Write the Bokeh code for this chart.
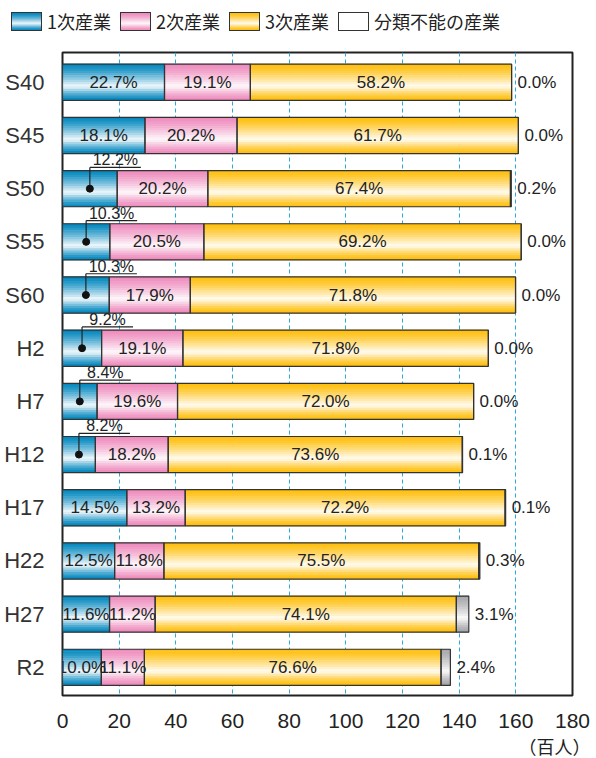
import numpy as np
from bokeh.plotting import figure
from bokeh.models import Range1d, FixedTicker, ColumnDataSource, Div, Title
from bokeh.layouts import column
from bokeh.core.properties import value
from bokeh.embed import file_html
from bokeh.resources import INLINE

# ---------------- data (hundreds of persons) ----------------
categories = ["S40", "S45", "S50", "S55", "S60", "H2", "H7", "H12", "H17", "H22", "H27", "R2"]
primary = [36.0, 29.1, 19.3, 16.7, 16.5, 13.8, 12.2, 11.6, 22.7, 18.4, 16.6, 13.7]
secondary = [30.3, 32.5, 32.0, 33.2, 28.6, 28.7, 28.4, 25.7, 20.6, 17.4, 16.1, 15.2]
tertiary = [92.2, 99.3, 106.8, 112.0, 114.8, 107.8, 104.5, 103.8, 112.9, 111.1, 106.3, 104.7]
unclassified = [0.0, 0.0, 0.3, 0.0, 0.0, 0.0, 0.0, 0.1, 0.2, 0.4, 4.4, 3.3]

pct_primary = [22.7, 18.1, 12.2, 10.3, 10.3, 9.2, 8.4, 8.2, 14.5, 12.5, 11.6, 10.0]
pct_secondary = [19.1, 20.2, 20.2, 20.5, 17.9, 19.1, 19.6, 18.2, 13.2, 11.8, 11.2, 11.1]
pct_tertiary = [58.2, 61.7, 67.4, 69.2, 71.8, 71.8, 72.0, 73.6, 72.2, 75.5, 74.1, 76.6]
pct_unclassified = [0.0, 0.0, 0.2, 0.0, 0.0, 0.0, 0.0, 0.1, 0.1, 0.3, 3.1, 2.4]

# primary-sector label drawn above the bar with a leader line
callout = [False, False, True, True, True, True, True, True, False, False, False, False]

legend_labels = ["1次産業", "2次産業", "3次産業", "分類不能の産業"]
x_ticks = [0, 20, 40, 60, 80, 100, 120, 140, 160, 180]
unit_label = "（百人）"

# ---------------- styling ----------------
BASES = [(0, 134, 190), (238, 138, 188), (255, 190, 10), (165, 165, 170)]
LEGEND_BASES = [(0, 134, 190), (238, 138, 188), (255, 190, 10), None]
N_STRIPS = 16
BAR_H = 0.68
LABEL_FONT = value("Liberation Sans")


def grad_color(base, t):
    if base is None:
        return "#ffffff"
    peak = 0.62
    w = t / peak if t < peak else (1 - t) / (1 - peak)
    m = 0.96 * (w ** 1.3)
    r, g, b = [int(round(c + (255 - c) * m)) for c in base]
    return "#%02x%02x%02x" % (r, g, b)


def css_gradient(base):
    if base is None:
        return "#ffffff"
    stops = []
    for k in range(11):
        t = k / 10
        stops.append(f"{grad_color(base, t)} {int(t * 100)}%")
    return "linear-gradient(to bottom, " + ", ".join(stops) + ")"


# ---------------- legend (HTML row) ----------------
items = []
for i, (lab, base) in enumerate(zip(legend_labels, LEGEND_BASES)):
    ml = 11 if i == 0 else 9
    items.append(
        f'<span style="display:inline-block;box-sizing:border-box;width:31px;height:19px;'
        f'border:1px solid #333;background:{css_gradient(base)};margin-left:{ml}px;"></span>'
        f'<span style="margin-left:5px;line-height:19px;">{lab}</span>'
    )
legend_html = (
    '<div style="display:flex;flex-direction:row;align-items:center;height:19px;'
    'margin-top:12px;font-family:\'Noto Sans CJK JP\';font-size:18px;color:#222;'
    'white-space:nowrap;">' + "".join(items) + "</div>"
)
legend = Div(text=legend_html, width=594, height=42, margin=(0, 0, 0, 0))

# ---------------- main figure ----------------
n = len(categories)
p = figure(width=594, height=716, x_range=Range1d(0, 180),
           y_range=Range1d(n - 0.47, -0.56),
           output_backend="svg", toolbar_location=None,
           min_border_left=62, min_border_right=22, min_border_top=10, min_border_bottom=61)
p.margin = (0, 0, 0, 0)
p.background_fill_color = "white"
p.border_fill_color = "white"
p.outline_line_color = "#222222"
p.outline_line_width = 2

series = [primary, secondary, tertiary, unclassified]
strips = dict(y=[], left=[], right=[], h=[], color=[])
boxes = dict(y=[], left=[], right=[])
for i in range(n):
    cum = 0.0
    for s, vals in enumerate(series):
        v = vals[i]
        if v > 0:
            for k in range(N_STRIPS):
                t = (k + 0.5) / N_STRIPS
                strips["y"].append(i - BAR_H / 2 + (k + 0.5) * BAR_H / N_STRIPS)
                strips["left"].append(cum)
                strips["right"].append(cum + v)
                strips["h"].append(BAR_H / N_STRIPS * 1.3)
                strips["color"].append(grad_color(BASES[s], t))
        boxes["y"].append(i)
        boxes["left"].append(cum)
        boxes["right"].append(cum + v)
        cum += v

p.hbar(y="y", left="left", right="right", height="h", fill_color="color",
       line_color=None, source=ColumnDataSource(strips))
p.hbar(y="y", left="left", right="right", height=BAR_H, fill_color=None,
       line_color="#333333", line_width=1.2, source=ColumnDataSource(boxes))

# labels
inside = dict(x=[], y=[], text=[])
above = dict(x=[], y=[], text=[])
lead_v = dict(x0=[], y0=[], x1=[], y1=[])
lead_h = dict(x0=[], y0=[], x1=[], y1=[])
dots = dict(x=[], y=[])
right_lab = dict(x=[], y=[], text=[])
LEAD_LEN = 18
for i in range(n):
    c1 = primary[i]
    c2 = c1 + secondary[i]
    c3 = c2 + tertiary[i]
    tot = c3 + unclassified[i]
    if callout[i]:
        xd = c1 / 2
        yl = i - BAR_H / 2 - 0.06
        dots["x"].append(xd); dots["y"].append(i)
        lead_v["x0"].append(xd); lead_v["y0"].append(i); lead_v["x1"].append(xd); lead_v["y1"].append(yl)
        lead_h["x0"].append(xd); lead_h["y0"].append(yl); lead_h["x1"].append(xd + LEAD_LEN); lead_h["y1"].append(yl)
        above["x"].append(xd + LEAD_LEN / 2); above["y"].append(yl); above["text"].append(f"{pct_primary[i]:.1f}%")
    else:
        inside["x"].append(c1 / 2); inside["y"].append(i); inside["text"].append(f"{pct_primary[i]:.1f}%")
    inside["x"].append((c1 + c2) / 2); inside["y"].append(i); inside["text"].append(f"{pct_secondary[i]:.1f}%")
    inside["x"].append((c2 + c3) / 2); inside["y"].append(i); inside["text"].append(f"{pct_tertiary[i]:.1f}%")
    right_lab["x"].append(tot); right_lab["y"].append(i); right_lab["text"].append(f"{pct_unclassified[i]:.1f}%")

p.text(x="x", y="y", text="text", source=ColumnDataSource(inside), text_font=LABEL_FONT,
       text_font_size="17px", text_color="#222222", text_align="center", text_baseline="middle")
p.text(x="x", y="y", text="text", source=ColumnDataSource(right_lab), text_font=LABEL_FONT,
       text_font_size="17px", text_color="#222222", text_align="left", text_baseline="middle",
       x_offset=6)
p.segment(x0="x0", y0="y0", x1="x1", y1="y1", source=ColumnDataSource(lead_v),
          line_color="#222222", line_width=1.2)
p.segment(x0="x0", y0="y0", x1="x1", y1="y1", source=ColumnDataSource(lead_h),
          line_color="#222222", line_width=1.2)
p.scatter(x="x", y="y", source=ColumnDataSource(dots), size=7, fill_color="#111111",
          line_color="#111111")
p.text(x="x", y="y", text="text", source=ColumnDataSource(above), text_font=LABEL_FONT,
       text_font_size="16px", text_color="#222222", text_align="center", text_baseline="bottom",
       y_offset=1)

# axes
p.xaxis.ticker = FixedTicker(ticks=x_ticks)
p.xaxis.axis_line_color = None
p.xaxis.major_tick_line_color = None
p.xaxis.minor_tick_line_color = None
p.xaxis.major_label_standoff = 12
p.xaxis.major_label_text_font = "Liberation Sans"
p.xaxis.major_label_text_font_size = "21px"
p.xaxis.major_label_text_color = "#222222"

p.yaxis.ticker = FixedTicker(ticks=list(range(n)))
p.yaxis.major_label_overrides = {i: c for i, c in enumerate(categories)}
p.yaxis.axis_line_color = None
p.yaxis.major_tick_line_color = None
p.yaxis.minor_tick_line_color = None
p.yaxis.major_label_standoff = 12
p.yaxis.major_label_text_font = "Liberation Sans"
p.yaxis.major_label_text_font_size = "22px"
p.yaxis.major_label_text_color = "#333333"

p.xgrid.ticker = FixedTicker(ticks=x_ticks)
p.xgrid.grid_line_color = "#29abe2"
p.xgrid.grid_line_dash = "4 3"
p.xgrid.grid_line_width = 1
p.ygrid.visible = False

p.add_layout(Title(text=unit_label, align="right", offset=-18, standoff=0,
                   text_font="Noto Sans CJK JP", text_font_size="18px",
                   text_font_style="normal", text_color="#222222"), "below")

layout = column(legend, p, spacing=0)
open("out.html", "w").write(file_html(layout, INLINE))
